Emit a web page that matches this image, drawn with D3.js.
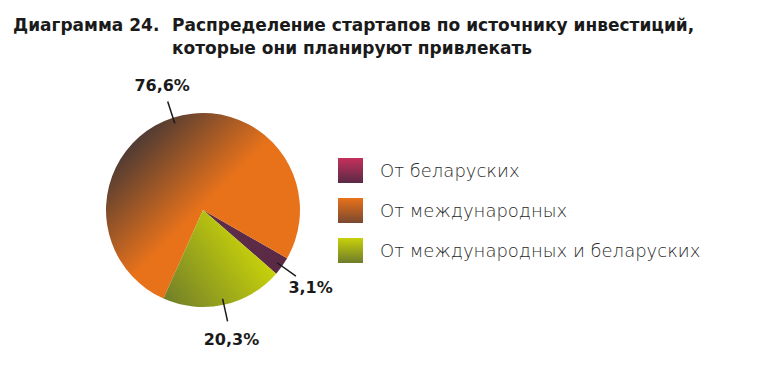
<!DOCTYPE html>
<html>
<head>
<meta charset="utf-8">
<script src="https://cdn.jsdelivr.net/npm/d3@7"></script>
<style>
  body { margin: 0; background: #fff; }
</style>
</head>
<body>
<div id="chart"></div>
<script>
/* DATA */
const categories = ["От беларуских", "От международных", "От международных и беларуских"]
const shares = [3.1, 76.6, 20.3]
const shareLabels = ["3,1%", "76,6%", "20,3%"]
const titleNumber = "Диаграмма 24."
const titleLines = ["Распределение стартапов по источнику инвестиций,", "которые они планируют привлекать"]

/* CONSTANTS */
const width = 771, height = 376
const cx = 203, cy = 210, radius = 97
const deg = Math.PI / 180

const svg = d3.select("#chart")
  .append("svg")
  .attr("width", width)
  .attr("height", height)

//gradients (slice gradients in coords relative to pie centre)
const defs = svg.append("defs")
const grads = [
  { id: "g-purple", x1: 0, y1: 0, x2: 0, y2: 1, units: "objectBoundingBox", stops: ["#5e2c48", "#5a2a45"] },
  { id: "g-orange", x1: -72, y1: -85, x2: 5, y2: -8, units: "userSpaceOnUse", stops: ["#3a3337", "#e8721a"] },
  { id: "g-green", x1: -35, y1: 95, x2: 50, y2: 35, units: "userSpaceOnUse", stops: ["#717f29", "#c6d00b"] }
]
grads.forEach(g => {
  const lg = defs.append("linearGradient")
    .attr("id", g.id)
    .attr("gradientUnits", g.units)
    .attr("x1", g.x1).attr("y1", g.y1).attr("x2", g.x2).attr("y2", g.y2)
  lg.append("stop").attr("offset", 0).attr("stop-color", g.stops[0])
  lg.append("stop").attr("offset", 1).attr("stop-color", g.stops[1])
})
const legendGrads = [["#c4305c", "#5a2a45"], ["#e8721a", "#7a4830"], ["#c8d10a", "#6e7c2a"]]
legendGrads.forEach((s, i) => {
  const lg = defs.append("linearGradient")
    .attr("id", "lg" + i)
    .attr("x1", 0).attr("y1", 0).attr("x2", 0).attr("y2", 1)
  lg.append("stop").attr("offset", 0).attr("stop-color", s[0])
  lg.append("stop").attr("offset", 1).attr("stop-color", s[1])
})
const fillScale = d3.scaleOrdinal()
  .domain(categories)
  .range(["url(#g-purple)", "url(#g-orange)", "url(#g-green)"])

//title
svg.append("text")
  .attr("x", 13).attr("y", 31)
  .attr("font-family", "DejaVu Sans").attr("font-weight", "bold").attr("font-size", 17)
  .attr("fill", "#1a1a1a")
  .text(titleNumber)
svg.selectAll(".title")
  .data(titleLines)
  .join("text")
  .attr("class", "title")
  .attr("x", 172)
  .attr("y", (d, i) => 31 + i * 23)
  .attr("font-family", "DejaVu Sans").attr("font-weight", "bold").attr("font-size", 17)
  .attr("fill", "#1a1a1a")
  .text(d => d)

//pie (counter-clockwise, starting at lower right)
const pie = d3.pie()
  .sort(null)
  .value(d => d.value)
  .startAngle(131 * deg)
  .endAngle(131 * deg - 2 * Math.PI)

const arcs = pie(categories.map((c, i) => ({ key: c, value: shares[i], label: shareLabels[i] })))

const arc = d3.arc().innerRadius(0).outerRadius(radius)

const g = svg.append("g").attr("transform", `translate(${cx},${cy})`)

g.selectAll(".slice")
  .data(arcs)
  .join("path")
  .attr("class", "slice")
  .attr("d", d => arc({ startAngle: Math.min(d.startAngle, d.endAngle), endAngle: Math.max(d.startAngle, d.endAngle) }))
  .attr("fill", d => fillScale(d.data.key))

//labels and leader lines
const polar = (a, r) => [r * Math.sin(a), -r * Math.cos(a)]
const mid = d => (d.startAngle + d.endAngle) / 2

g.selectAll(".leader")
  .data(arcs)
  .join("line")
  .attr("class", "leader")
  .attr("x1", d => polar(mid(d), radius - 6)[0])
  .attr("y1", d => polar(mid(d), radius - 6)[1])
  .attr("x2", d => polar(mid(d), radius + 17)[0])
  .attr("y2", d => polar(mid(d), radius + 17)[1])
  .attr("stroke", "#1a1a1a")
  .attr("stroke-width", 1.5)

g.selectAll(".pct")
  .data(arcs)
  .join("text")
  .attr("class", "pct")
  .attr("x", d => polar(mid(d), radius + 35)[0])
  .attr("y", d => polar(mid(d), radius + 35)[1] + 6)
  .attr("text-anchor", "middle")
  .attr("font-family", "DejaVu Sans").attr("font-weight", "bold").attr("font-size", 16)
  .attr("fill", "#1a1a1a")
  .text(d => d.data.label)

//legend
const legend = svg.append("g").attr("transform", "translate(338,158)")
legend.selectAll("rect")
  .data(categories)
  .join("rect")
  .attr("x", 0)
  .attr("y", (d, i) => i * 40)
  .attr("width", 25).attr("height", 25)
  .attr("fill", (d, i) => `url(#lg${i})`)
legend.selectAll("text")
  .data(categories)
  .join("text")
  .attr("x", 42)
  .attr("y", (d, i) => i * 40 + 19)
  .attr("font-family", "DejaVu Sans").attr("font-weight", 200).attr("font-size", 18)
  .attr("fill", "#2a2a2a")
  .text(d => d)
</script>
</body>
</html>
